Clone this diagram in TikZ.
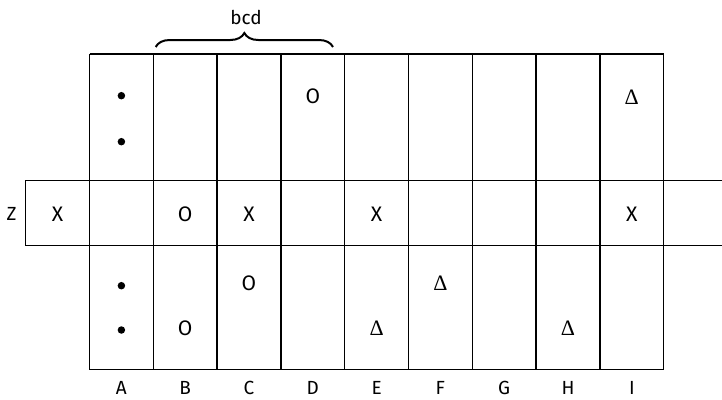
\documentclass[tikz,border=0pt]{standalone}
\usepackage{fontspec}
\setmainfont{Fira Sans}
\newfontfamily\serifsym{Liberation Serif}
\usetikzlibrary{decorations.pathreplacing}
\tikzset{
  gridline/.style={line width=1.4pt},
  lbl/.style={inner sep=0pt, font=\fontsize{19}{22}\selectfont},
  sym/.style={inner sep=0pt, font=\fontsize{21}{24}\selectfont},
  tri/.style={inner sep=0pt, font=\serifsym\fontsize{22}{25}\selectfont},
  dot/.style={circle, fill=black, inner sep=0pt, minimum size=7.5pt},
}
\begin{document}
\begin{tikzpicture}[x=1pt,y=-1pt]
  \useasboundingbox (0,0) rectangle (722,399);
  % column boundaries and row boundaries
  \def\xz{25.7}
  \def\xl{89.5}
  \def\cw{63.8}
  \def\ytop{54}
  \def\yma{180.5}
  \def\ymb{245.3}
  \def\ybot{369.7}
  % vertical lines of the main grid
  \foreach \k in {0,...,9} {
    \draw[gridline] ({\xl+\k*\cw},\ytop) -- ({\xl+\k*\cw},\ybot);
  }
  % top and bottom edges of the main grid
  \draw[gridline] (\xl,\ytop) -- ({\xl+9*\cw},\ytop);
  \draw[gridline] (\xl,\ybot) -- ({\xl+9*\cw},\ybot);
  % the long middle row
  \draw[gridline] (722,\yma) -- (\xz,\yma) -- (\xz,\ymb) -- (722,\ymb);

  % brace over B--D
  \coordinate (bs) at (155.7,47);
  \coordinate (be) at (333,47);
  \draw[line width=2pt, decorate, decoration={brace, amplitude=14pt}] (bs) -- (be);
  \node[lbl] (bcd) at (246,17) {bcd};

  % row label
  \node[lbl] (z) at (11.7,214) {Z};

  % column labels
  \foreach \n [count=\i from 0] in {A,B,C,D,E,F,G,H,I} {
    \node[lbl] (col\n) at ({\xl+(\i+0.5)*\cw},388) {\n};
  }

  % top block
  \node[dot] (a1) at (121.4,95.7) {};
  \node[dot] (a2) at (121.4,141.7) {};
  \node[sym] (d1) at (312.8,96) {O};
  \node[tri] (i1) at (631.8,97) {Δ};

  % middle row
  \node[sym] (z0) at (57.6,214) {X};
  \node[sym] (b2) at (185.2,214) {O};
  \node[sym] (c2) at (249,214) {X};
  \node[sym] (e2) at (376.6,214) {X};
  \node[sym] (i2) at (631.8,214) {X};

  % bottom block
  \node[dot] (a3) at (121.4,285.7) {};
  \node[dot] (a4) at (121.4,330) {};
  \node[sym] (c3) at (249,283) {O};
  \node[tri] (f3) at (440.4,283) {Δ};
  \node[sym] (b4) at (185.2,328) {O};
  \node[tri] (e4) at (376.6,328) {Δ};
  \node[tri] (h4) at (568,328) {Δ};
\end{tikzpicture}
\end{document}
